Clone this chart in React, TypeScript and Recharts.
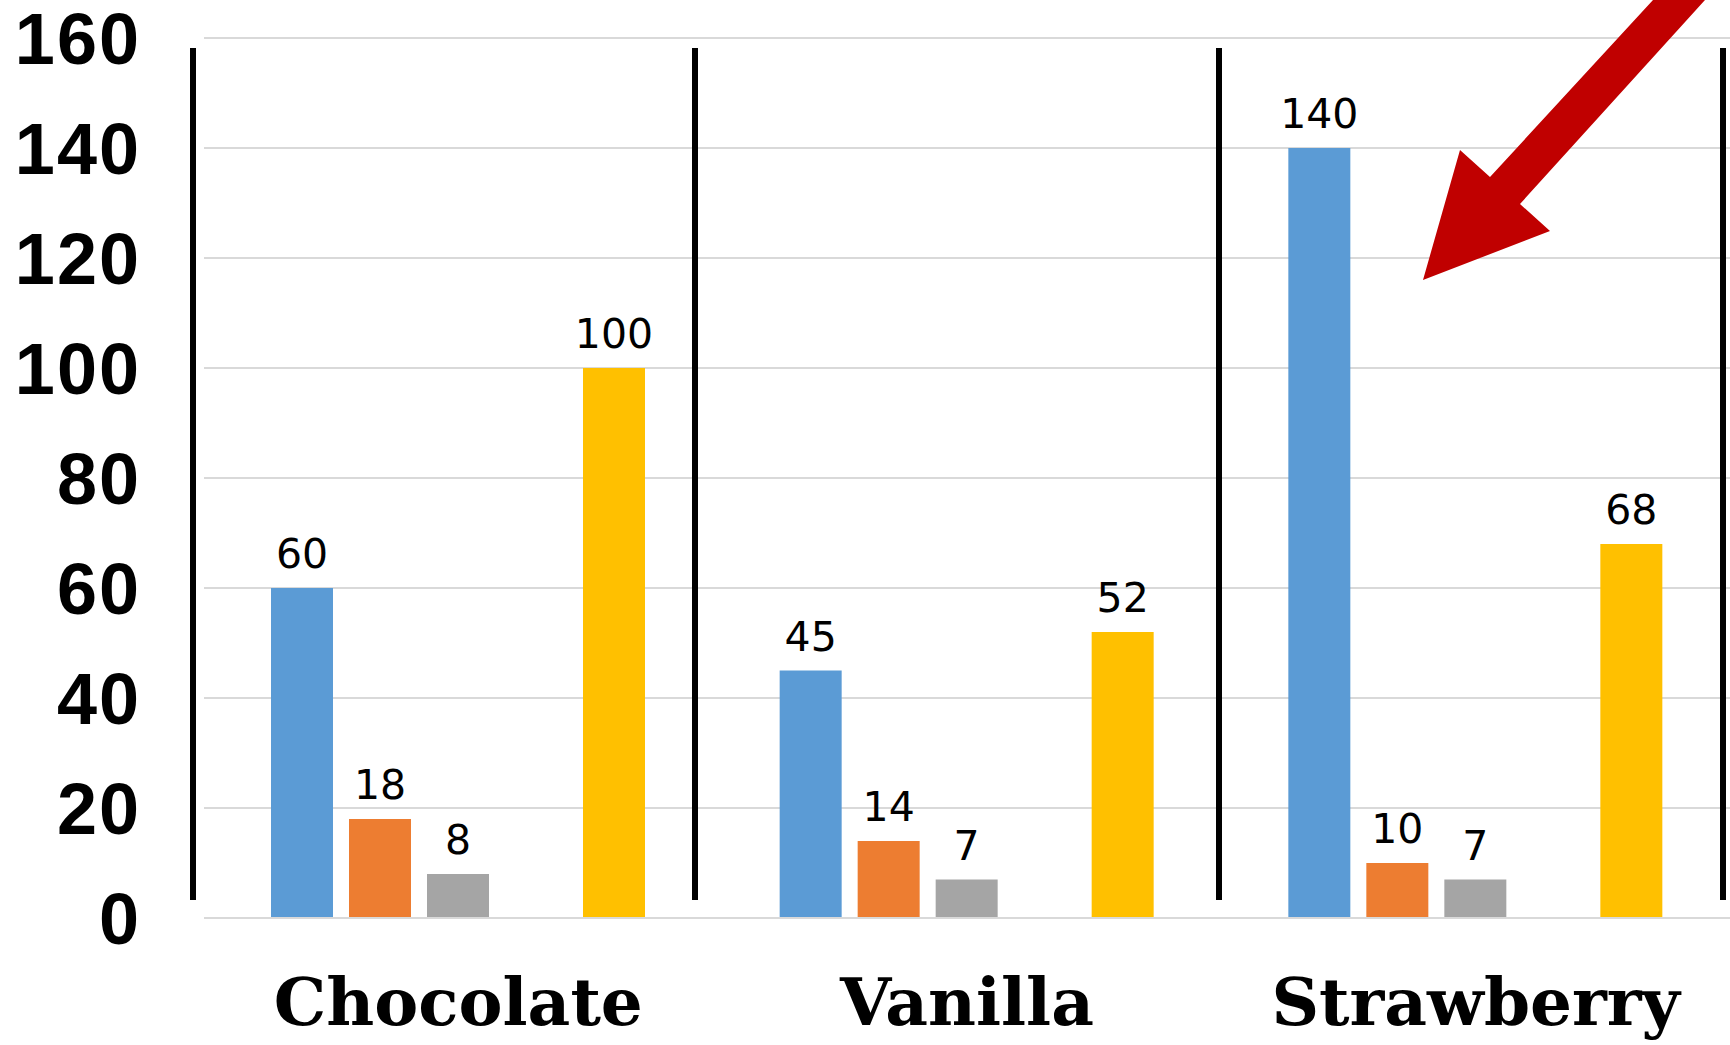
import React from 'react';
import { BarChart, Bar, XAxis, YAxis, CartesianGrid, LabelList } from 'recharts';

const categories = ['Chocolate', 'Vanilla', 'Strawberry'];
const seriesBlue = [60, 45, 140];
const seriesOrange = [18, 14, 10];
const seriesGray = [8, 7, 7];
const seriesEmpty: (number | null)[] = [null, null, null];
const seriesYellow = [100, 52, 68];
const yTicks = [0, 20, 40, 60, 80, 100, 120, 140, 160];

const rows = categories.map((name, i) => ({
  name,
  blue: seriesBlue[i],
  orange: seriesOrange[i],
  gray: seriesGray[i],
  empty: seriesEmpty[i],
  yellow: seriesYellow[i],
}));

// decoration: black dividers and the red arrow
const dividerX = [193, 695, 1219, 1723];
const arrowPts = '1653,0 1705,0 1520,204 1550,231 1423,280 1460,150 1490,177';

const labelStyle = { fontFamily: 'DejaVu Sans', fontSize: 41, fill: '#000' };

export default function App() {
  return (
    <div style={{ position: 'absolute', left: 0, top: 0, width: 1730, height: 1045, background: '#fff', overflow: 'hidden' }}>
      <BarChart
        width={1730}
        height={1045}
        data={rows}
        margin={{ top: 38, right: 0, bottom: 0, left: 0 }}
        barSize={62}
        barGap={16}
      >
        <CartesianGrid vertical={false} stroke="#d9d9d9" strokeWidth={2} />
        <XAxis
          dataKey="name"
          height={127}
          tickLine={false}
          tickSize={0}
          tickMargin={60}
          axisLine={{ stroke: '#d9d9d9', strokeWidth: 2 }}
          tick={{ fontFamily: 'DejaVu Serif', fontWeight: 'bold', fontSize: 66, fill: '#000' }}
        />
        <YAxis
          width={204}
          domain={[0, 160]}
          ticks={yTicks}
          interval={0}
          axisLine={false}
          tickLine={false}
          tickSize={0}
          tickMargin={63}
          tick={{ fontFamily: 'Liberation Sans', fontWeight: 'bold', fontSize: 72, letterSpacing: 2, fill: '#000' }}
        />
        <Bar dataKey="blue" fill="#5B9BD5" isAnimationActive={false}>
          <LabelList dataKey="blue" position="top" offset={20} style={labelStyle} />
        </Bar>
        <Bar dataKey="orange" fill="#ED7D31" isAnimationActive={false}>
          <LabelList dataKey="orange" position="top" offset={20} style={labelStyle} />
        </Bar>
        <Bar dataKey="gray" fill="#A5A5A5" isAnimationActive={false}>
          <LabelList dataKey="gray" position="top" offset={20} style={labelStyle} />
        </Bar>
        <Bar dataKey="empty" fill="#4472C4" isAnimationActive={false} />
        <Bar dataKey="yellow" fill="#FFC000" isAnimationActive={false}>
          <LabelList dataKey="yellow" position="top" offset={20} style={labelStyle} />
        </Bar>
      </BarChart>
      <svg width={1730} height={1045} style={{ position: 'absolute', left: 0, top: 0, pointerEvents: 'none' }}>
        {dividerX.map((x) => (
          <line key={x} x1={x} x2={x} y1={48} y2={900} stroke="#000" strokeWidth={6} />
        ))}
        <polygon points={arrowPts} fill="#C00000" />
      </svg>
    </div>
  );
}
